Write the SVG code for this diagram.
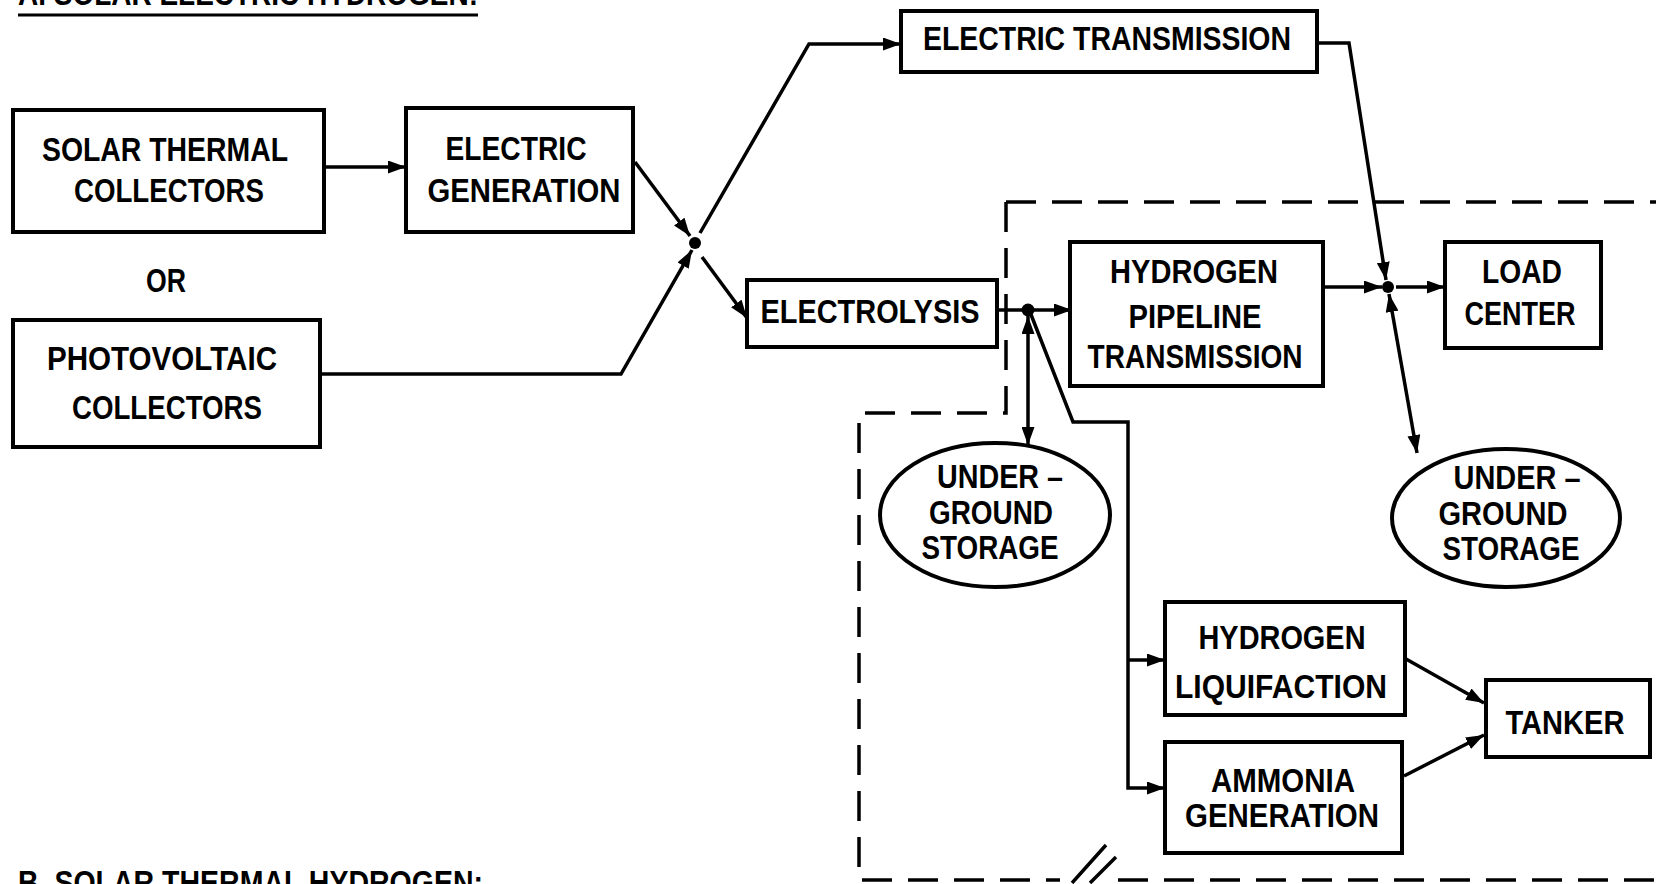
<svg xmlns="http://www.w3.org/2000/svg" width="1656" height="884" viewBox="0 0 1656 884">
<style>
.box{fill:#fff;stroke:#000;stroke-width:4}
.t{font-family:"Liberation Sans",Arial,sans-serif;font-weight:bold;font-size:33px;fill:#000;text-anchor:middle}
.ti{font-family:"Liberation Sans",Arial,sans-serif;font-weight:bold;font-size:33px;fill:#000}
.ln{fill:none;stroke:#000;stroke-width:3.5;stroke-linejoin:miter}
.dash{fill:none;stroke:#000;stroke-width:3.5;stroke-dasharray:30 16}
</style>
<defs>
<marker id="ah" viewBox="0 0 18 13" refX="18" refY="6.5" markerWidth="18" markerHeight="13" markerUnits="userSpaceOnUse" orient="auto-start-reverse"><path d="M0,0 L18,6.5 L0,13 z" fill="#000"/></marker>
</defs>
<rect width="1656" height="884" fill="#fff"/>

<g id="titles">
<text class="ti" x="18" y="5" textLength="460" lengthAdjust="spacingAndGlyphs">A. SOLAR ELECTRIC HYDROGEN:</text>
<line x1="18" y1="15" x2="478" y2="15" stroke="#000" stroke-width="3"/>
<text class="ti" x="18" y="894" textLength="465" lengthAdjust="spacingAndGlyphs">B. SOLAR THERMAL HYDROGEN:</text>
</g>

<g id="boundary">
<path class="dash" d="M1006 202 H1656"/>
<path class="dash" d="M1006 202 V413 H859 V880 H1060"/>
<path class="dash" d="M1118 880 H1656"/>
<path class="ln" d="M1072 883 L1106 845 M1090 883 L1116 857"/>
</g>

<g id="connectors">
<path class="ln" d="M324 167 H406" marker-end="url(#ah)"/>
<path class="ln" d="M635 162 L690 236" marker-end="url(#ah)"/>
<path class="ln" d="M320 374 H621 L692 250" marker-end="url(#ah)"/>
<circle cx="695" cy="243" r="6" fill="#000"/>
<path class="ln" d="M700 233 L809 44 H901" marker-end="url(#ah)"/>
<path class="ln" d="M702 257 L747 318" marker-end="url(#ah)"/>
<path class="ln" d="M997 310 H1072" marker-end="url(#ah)"/>
<circle cx="1028" cy="310" r="6.5" fill="#000"/>
<path class="ln" d="M1028 316 V445" marker-start="url(#ah)" marker-end="url(#ah)" stroke-width="4"/>
<path class="ln" d="M1030 312 L1073 422 H1128 V788 H1165" marker-end="url(#ah)"/>
<path class="ln" d="M1128 660 H1165" marker-end="url(#ah)"/>
<path class="ln" d="M1317 43 H1349 L1386 280" marker-end="url(#ah)"/>
<path class="ln" d="M1323 287 H1382" marker-end="url(#ah)"/>
<circle cx="1388" cy="287" r="6" fill="#000"/>
<path class="ln" d="M1396 287 H1445" marker-end="url(#ah)"/>
<path class="ln" d="M1389 294 L1417 453" marker-start="url(#ah)" marker-end="url(#ah)" stroke-width="4"/>
<path class="ln" d="M1406 659 L1484 703" marker-end="url(#ah)"/>
<path class="ln" d="M1404 776 L1484 735" marker-end="url(#ah)"/>
</g>

<g id="solar-thermal">
<rect class="box" x="13" y="110" width="311" height="122"/>
<text class="t" x="165" y="161" textLength="246" lengthAdjust="spacingAndGlyphs">SOLAR THERMAL</text>
<text class="t" x="169" y="202" textLength="190" lengthAdjust="spacingAndGlyphs">COLLECTORS</text>
</g>
<g id="electric-generation">
<rect class="box" x="406" y="108" width="227" height="124"/>
<text class="t" x="516" y="160" textLength="141" lengthAdjust="spacingAndGlyphs">ELECTRIC</text>
<text class="t" x="524" y="202" textLength="193" lengthAdjust="spacingAndGlyphs">GENERATION</text>
</g>
<g id="or-label">
<text class="t" x="166" y="292" textLength="40" lengthAdjust="spacingAndGlyphs">OR</text>
</g>
<g id="photovoltaic">
<rect class="box" x="13" y="320" width="307" height="127"/>
<text class="t" x="162" y="370" textLength="230" lengthAdjust="spacingAndGlyphs">PHOTOVOLTAIC</text>
<text class="t" x="167" y="419" textLength="190" lengthAdjust="spacingAndGlyphs">COLLECTORS</text>
</g>
<g id="electric-transmission">
<rect class="box" x="901" y="11" width="416" height="61"/>
<text class="t" x="1107" y="50" textLength="368" lengthAdjust="spacingAndGlyphs">ELECTRIC TRANSMISSION</text>
</g>
<g id="electrolysis">
<rect class="box" x="747" y="280" width="250" height="67"/>
<text class="t" x="870" y="323" textLength="219" lengthAdjust="spacingAndGlyphs">ELECTROLYSIS</text>
</g>
<g id="hydrogen-pipeline">
<rect class="box" x="1070" y="242" width="253" height="144"/>
<text class="t" x="1194" y="283" textLength="168" lengthAdjust="spacingAndGlyphs">HYDROGEN</text>
<text class="t" x="1195" y="328" textLength="133" lengthAdjust="spacingAndGlyphs">PIPELINE</text>
<text class="t" x="1195" y="368" textLength="215" lengthAdjust="spacingAndGlyphs">TRANSMISSION</text>
</g>
<g id="load-center">
<rect class="box" x="1445" y="242" width="156" height="106"/>
<text class="t" x="1522" y="283" textLength="80" lengthAdjust="spacingAndGlyphs">LOAD</text>
<text class="t" x="1520" y="325" textLength="111" lengthAdjust="spacingAndGlyphs">CENTER</text>
</g>
<g id="storage-left">
<ellipse class="box" cx="995" cy="515" rx="115" ry="72"/>
<text class="t" x="1000" y="488" textLength="126" lengthAdjust="spacingAndGlyphs">UNDER –</text>
<text class="t" x="991" y="524" textLength="124" lengthAdjust="spacingAndGlyphs">GROUND</text>
<text class="t" x="990" y="559" textLength="137" lengthAdjust="spacingAndGlyphs">STORAGE</text>
</g>
<g id="storage-right">
<ellipse class="box" cx="1506" cy="518" rx="114" ry="69"/>
<text class="t" x="1517" y="489" textLength="127" lengthAdjust="spacingAndGlyphs">UNDER –</text>
<text class="t" x="1503" y="525" textLength="129" lengthAdjust="spacingAndGlyphs">GROUND</text>
<text class="t" x="1511" y="560" textLength="137" lengthAdjust="spacingAndGlyphs">STORAGE</text>
</g>
<g id="hydrogen-liquifaction">
<rect class="box" x="1165" y="602" width="240" height="113"/>
<text class="t" x="1282" y="649" textLength="167" lengthAdjust="spacingAndGlyphs">HYDROGEN</text>
<text class="t" x="1281" y="698" textLength="212" lengthAdjust="spacingAndGlyphs">LIQUIFACTION</text>
</g>
<g id="ammonia-generation">
<rect class="box" x="1165" y="742" width="237" height="111"/>
<text class="t" x="1283" y="792" textLength="144" lengthAdjust="spacingAndGlyphs">AMMONIA</text>
<text class="t" x="1282" y="827" textLength="194" lengthAdjust="spacingAndGlyphs">GENERATION</text>
</g>
<g id="tanker">
<rect class="box" x="1486" y="680" width="164" height="77"/>
<text class="t" x="1565" y="734" textLength="119" lengthAdjust="spacingAndGlyphs">TANKER</text>
</g>
</svg>
